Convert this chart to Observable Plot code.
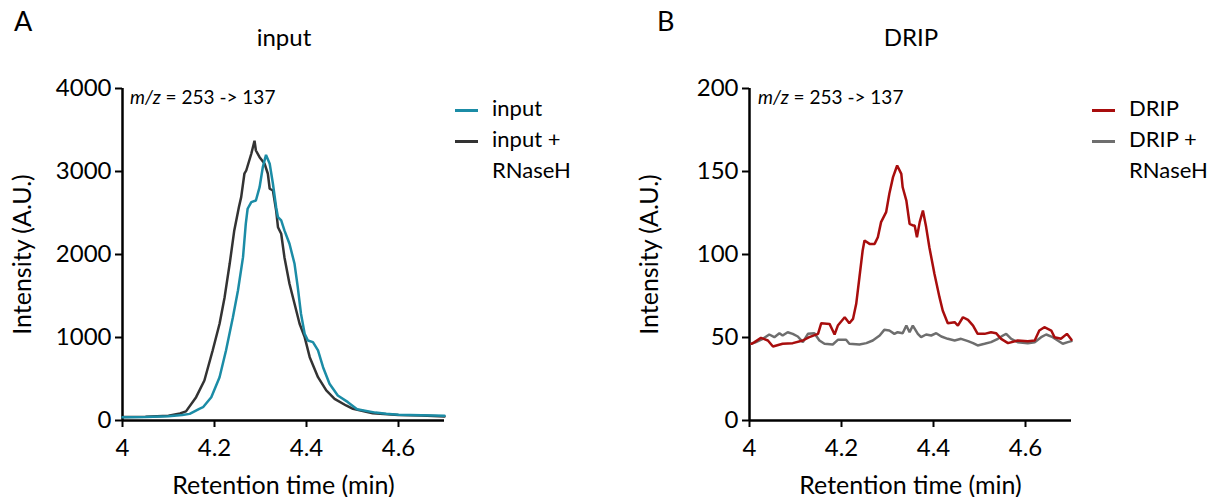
<!DOCTYPE html>
<html><head><meta charset="utf-8">
<script src="https://cdn.jsdelivr.net/npm/d3@7"></script>
<script src="https://cdn.jsdelivr.net/npm/@observablehq/plot@0.6"></script>
<style>
body{margin:0;background:#fff;font-family:Lato, sans-serif;}
#wrap{position:relative;width:1223px;height:497px;overflow:hidden;background:#fff;}
.abs{position:absolute;white-space:nowrap;color:#000;}
.panel{position:absolute;top:0;}
.panel text{font-size:24px;}
.panel g[aria-label$="axis label"] text{font-size:25px;}
.letter{font-size:27px;line-height:27px;}
.title{font-size:24px;line-height:24px;transform:translateX(-50%);}
.anno{font-size:19px;line-height:19px;}
.leg{font-size:22px;line-height:31px;}
.sw{display:inline-block;width:23px;height:3px;vertical-align:middle;margin-right:14px;}
.ind{display:inline-block;width:37px;}
</style>
</head><body>
<div id="wrap"></div>
<script>
// ---- data ----
const xTicks = [4, 4.2, 4.4, 4.6];
const yTicksA = [0, 1000, 2000, 3000, 4000];
const yTicksB = [0, 50, 100, 150, 200];

const seriesA = ["input + RNaseH", "input"];
const seriesB = ["DRIP + RNaseH", "DRIP"];

// Panel A: input
const inputT = [4.00,4.05,4.10,4.13,4.146,4.167,4.175,4.193,4.211,4.225,4.240,4.251,4.262,4.268,4.272,4.280,4.290,4.298,4.305,4.312,4.320,4.327,4.334,4.338,4.345,4.352,4.363,4.374,4.381,4.388,4.396,4.403,4.414,4.425,4.436,4.450,4.468,4.490,4.51,4.55,4.573,4.60,4.65,4.70];
const inputV = [40,42,50,65,80,141,160,281,522,844,1245,1567,1968,2370,2551,2631,2651,2811,3052,3200,3093,2852,2570,2450,2410,2290,2129,1888,1606,1286,1045,964,944,844,642,442,301,221,135,95,80,70,64,57];
// Panel A: input + RNaseH
const inputRT = [4.00,4.05,4.10,4.125,4.138,4.160,4.178,4.196,4.211,4.222,4.233,4.243,4.253,4.258,4.265,4.269,4.280,4.287,4.290,4.298,4.309,4.316,4.320,4.327,4.334,4.338,4.345,4.352,4.363,4.374,4.385,4.396,4.407,4.425,4.443,4.461,4.486,4.501,4.544,4.60,4.65,4.70];
const inputRV = [42,44,58,85,110,281,482,843,1165,1486,1888,2290,2570,2691,2973,3012,3214,3370,3253,3173,3093,2973,2792,2771,2531,2329,2250,1968,1647,1406,1165,1004,763,522,362,261,181,141,88,66,60,48];

// Panel B: DRIP
const dripT = [4.004,4.011,4.025,4.040,4.051,4.072,4.094,4.116,4.130,4.149,4.156,4.174,4.185,4.192,4.207,4.217,4.225,4.232,4.239,4.246,4.250,4.261,4.272,4.279,4.286,4.297,4.304,4.312,4.321,4.330,4.333,4.341,4.348,4.355,4.359,4.364,4.370,4.377,4.384,4.391,4.402,4.413,4.420,4.431,4.446,4.453,4.464,4.475,4.486,4.496,4.511,4.525,4.536,4.547,4.562,4.583,4.605,4.620,4.630,4.641,4.656,4.663,4.677,4.690,4.700];
const dripV = [46.2,47.2,49.8,48.2,44.6,46.2,46.6,48.2,50.2,52.2,58.6,58.2,51.8,57.2,62.2,58.6,61.2,70.3,86.3,102.4,108.4,106.4,106.4,110.4,119.5,125.5,136.6,146.6,153.6,148.6,140.5,132.5,118.5,117.5,117.5,110.4,119.5,126.5,116.5,104.4,88.4,74.3,66.3,58.6,59.2,57.2,62.2,60.6,57.2,52.2,52.2,53.2,52.6,49.2,46.6,48.2,47.8,48.2,54.2,56.2,54.2,50.2,49.2,52.2,48.6];
// Panel B: DRIP + RNaseH
const dripRT = [4.004,4.014,4.029,4.043,4.054,4.065,4.072,4.083,4.094,4.105,4.116,4.127,4.141,4.152,4.163,4.181,4.192,4.210,4.217,4.239,4.254,4.268,4.283,4.293,4.304,4.315,4.322,4.333,4.341,4.348,4.355,4.366,4.373,4.384,4.395,4.406,4.417,4.431,4.446,4.460,4.475,4.486,4.496,4.511,4.525,4.540,4.551,4.558,4.569,4.583,4.605,4.620,4.634,4.645,4.659,4.670,4.681,4.692,4.700];
const dripRV = [46.2,47.2,49.2,51.8,50.2,52.6,51.2,53.2,52.2,50.6,47.2,52.2,52.6,48.2,46.2,45.8,48.6,48.6,46.2,45.8,46.6,48.2,51.2,54.6,54.2,52.2,53.2,52.6,57.2,53.2,57.2,52.2,50.2,51.8,51.2,52.6,50.6,49.2,48.2,49.2,47.8,46.6,45.2,46.2,47.2,49.2,51.2,52.2,49.2,47.2,46.6,47.2,50.2,51.8,50.2,48.2,46.2,47.2,47.8];

const colorsA = ["#333333", "#1b8ca6"];
const colorsB = ["#6e6e6e", "#a80d0d"];

// ---- build ----
function rows(name, T, V) { return T.map((t, i) => ({s: name, t, v: V[i]})); }
const dataA = [...rows(seriesA[0], inputRT, inputRV), ...rows(seriesA[1], inputT, inputV)];
const dataB = [...rows(seriesB[0], dripRT, dripRV), ...rows(seriesB[1], dripT, dripV)];

function panel(data, names, colors, yTicks) {
  return Plot.plot({
    width: 596, height: 497,
    marginLeft: 122, marginRight: 152, marginTop: 88, marginBottom: 77,
    style: {fontFamily: "Lato, sans-serif", fontSize: "24px", color: "#000", background: "transparent", overflow: "visible"},
    x: {domain: [4, 4.7]},
    y: {domain: [yTicks[0], yTicks[yTicks.length - 1]]},
    color: {domain: names, range: colors},
    marks: [
      Plot.axisX({ticks: xTicks, tickFormat: d => String(d), tickSize: 7, tickPadding: 11, strokeWidth: 2,
        label: "Retention time (min)", labelAnchor: "center", labelArrow: "none", labelOffset: 73, fontSize: 24}),
      Plot.axisY({ticks: yTicks, tickFormat: d => String(d), tickSize: 7, tickPadding: 4, strokeWidth: 2,
        label: "Intensity (A.U.)", labelAnchor: "center", labelArrow: "none", labelOffset: 109, fontSize: 24}),
      Plot.ruleX([4], {strokeWidth: 2.5}),
      Plot.ruleY([0], {strokeWidth: 2.5}),
      Plot.line(data, {x: "t", y: "v", z: "s", stroke: "s", strokeWidth: 2.5, strokeLinejoin: "miter"})
    ]
  });
}

const wrap = document.getElementById("wrap");
function add(el, left) { el.classList.add("panel"); el.style.left = left + "px"; wrap.appendChild(el); }
add(panel(dataA, seriesA, colorsA, yTicksA), 0);
add(panel(dataB, seriesB, colorsB, yTicksB), 627);

function label(cls, html, left, top) {
  const d = document.createElement("div");
  d.className = "abs " + cls; d.innerHTML = html;
  d.style.left = left + "px"; d.style.top = top + "px";
  wrap.appendChild(d); return d;
}
label("letter", "A", 14, 7);
label("letter", "B", 657, 7);
label("title", "input", 284, 25);
label("title", "DRIP", 911, 25);
label("anno", "<i>m/z</i> = 253 -&gt; 137", 130, 87);
label("anno", "<i>m/z</i> = 253 -&gt; 137", 758, 87);

function legend(left, names, colors, lines) {
  const sw = c => `<span class="sw" style="background:${c}"></span>`;
  label("leg", sw(colors[1]) + lines[0] + "<br>" + sw(colors[0]) + lines[1] + "<br><span class='ind'></span>" + lines[2], left, 92);
}
legend(455, seriesA, colorsA, ["input", "input +", "RNaseH"]);
legend(1092, seriesB, colorsB, ["DRIP", "DRIP +", "RNaseH"]);
</script>
</body></html>
